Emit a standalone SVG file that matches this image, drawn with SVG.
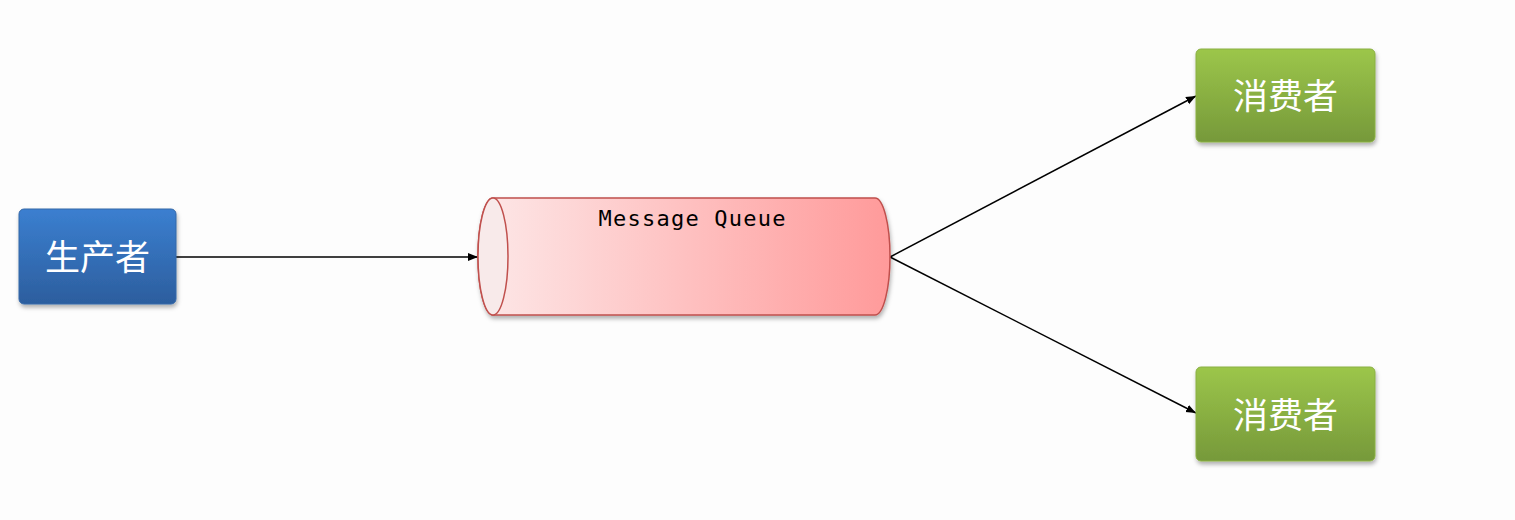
<svg xmlns="http://www.w3.org/2000/svg" width="1515" height="520" viewBox="0 0 1515 520">
<defs>
<linearGradient id="gBlue" x1="0" y1="0" x2="0" y2="1"><stop offset="0" stop-color="#3b7fd0"/><stop offset="1" stop-color="#2c5e9e"/></linearGradient>
<linearGradient id="gGreen" x1="0" y1="0" x2="0" y2="1"><stop offset="0" stop-color="#9cc64a"/><stop offset="1" stop-color="#76993a"/></linearGradient>
<linearGradient id="gRed" x1="0" y1="0" x2="1" y2="0"><stop offset="0" stop-color="#fde8e8"/><stop offset="1" stop-color="#ff9a9a"/></linearGradient>
<filter id="sh" x="-10%" y="-10%" width="130%" height="130%"><feDropShadow dx="1" dy="3" stdDeviation="2" flood-color="#000" flood-opacity="0.3"/></filter>
<marker id="arr" viewBox="0 0 10 10" refX="10" refY="5" markerWidth="10" markerHeight="10" markerUnits="userSpaceOnUse" orient="auto"><path d="M0,1 L10,5 L0,9 z" fill="#000"/></marker>
<style>
.cn{font-family:"Noto Sans CJK SC",sans-serif;font-size:35px;fill:#fff;text-anchor:middle}
.mono{font-family:"DejaVu Sans Mono","Liberation Mono",monospace;font-size:22px;fill:#000;text-anchor:middle}
.edge{stroke:#000;stroke-width:1.5;fill:none;marker-end:url(#arr)}
</style>
</defs>
<rect width="1515" height="520" fill="#fdfdfd"/>
<g id="edges">
<line class="edge" x1="176" y1="257" x2="478" y2="257"/>
<line class="edge" x1="890" y1="257" x2="1196" y2="96"/>
<line class="edge" x1="890" y1="257" x2="1196" y2="413"/>
</g>
<g id="producer">
<rect x="19" y="209" width="157" height="95" rx="5" fill="url(#gBlue)" stroke="#3568a8" stroke-width="1" filter="url(#sh)"/>
<text class="cn" x="97.5" y="270">生产者</text>
</g>
<g id="queue">
<path d="M493,198 L875,198 A15,58.5 0 0 1 875,315 L493,315 A15,58.5 0 0 1 493,198 z" fill="url(#gRed)" stroke="#c0504d" stroke-width="1.5" filter="url(#sh)"/>
<ellipse cx="493" cy="256.5" rx="15" ry="58.5" fill="#f8eaea" stroke="#c0504d" stroke-width="1.5"/>
<text class="mono" x="692" y="226" textLength="187" lengthAdjust="spacing">Message Queue</text>
</g>
<g id="consumer1">
<rect x="1196" y="49" width="179" height="93" rx="5" fill="url(#gGreen)" stroke="#8ab043" stroke-width="1" filter="url(#sh)"/>
<text class="cn" x="1285.5" y="109">消费者</text>
</g>
<g id="consumer2">
<rect x="1196" y="367" width="179" height="94" rx="5" fill="url(#gGreen)" stroke="#8ab043" stroke-width="1" filter="url(#sh)"/>
<text class="cn" x="1285.5" y="428">消费者</text>
</g>
</svg>
